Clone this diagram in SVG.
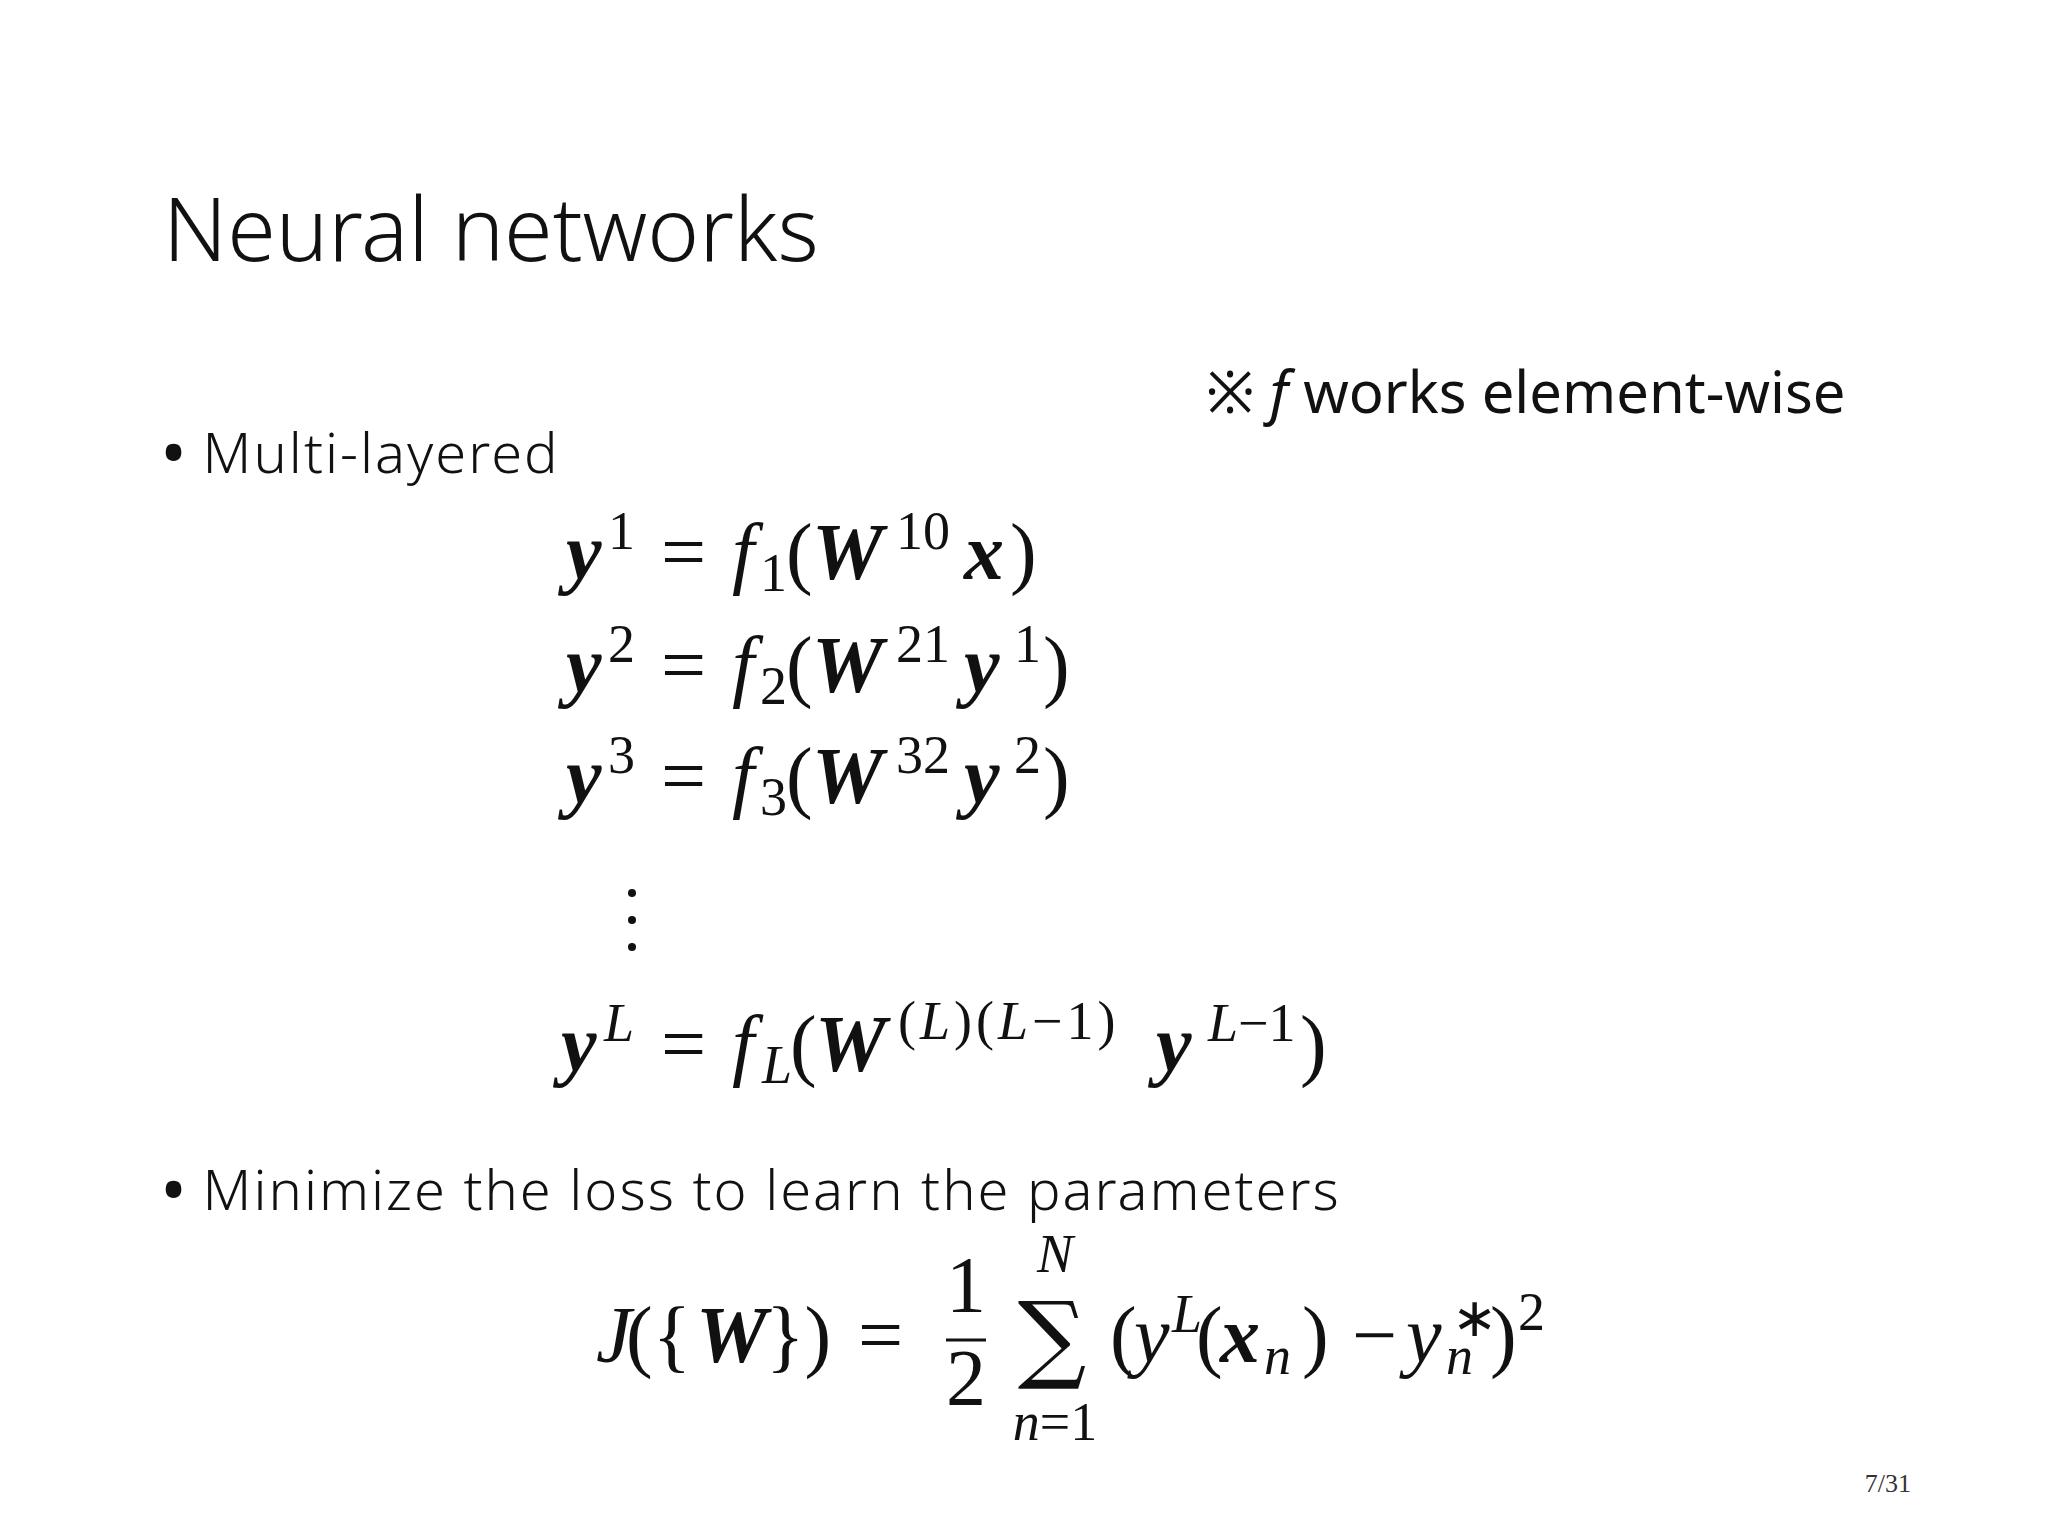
<svg xmlns="http://www.w3.org/2000/svg" width="2048" height="1536" viewBox="0 0 2048 1536">
<style>
.t{font-family:"Noto Sans",sans-serif;fill:#111;font-weight:300}
.m{font-family:"Liberation Serif",serif;fill:#111;font-size:80px}
.b{font-weight:bold;font-style:italic}
.i{font-style:italic}
.s{font-size:54px}
</style>
<rect width="2048" height="1536" fill="#fff"/>
<g id="title"><text class="t" x="163" y="261" font-size="88">Neural networks</text></g>
<g id="note"><text x="1206" y="413" font-size="58" font-family="Noto Sans,sans-serif" fill="#111">※ <tspan font-style="italic">f</tspan>  works element-wise</text></g>
<g id="bullet1"><text class="t" x="163" y="473" font-size="56" letter-spacing="2"><tspan font-weight="700">•</tspan> Multi-layered</text></g>
<g id="eqs">
<text class="m" y="579"><tspan class="b" x="566">y</tspan><tspan class="s" x="608" dy="-30">1</tspan><tspan x="661" dy="30">=</tspan><tspan class="i" x="732">f</tspan><tspan class="s" x="760" dy="12">1</tspan><tspan x="786" dy="-12">(</tspan><tspan class="b" x="812">W</tspan><tspan class="s" x="896" dy="-30">10</tspan><tspan class="b" x="964" dy="30">x</tspan><tspan x="1010">)</tspan></text>
<text class="m" y="692"><tspan class="b" x="566">y</tspan><tspan class="s" x="608" dy="-30">2</tspan><tspan x="661" dy="30">=</tspan><tspan class="i" x="732">f</tspan><tspan class="s" x="760" dy="12">2</tspan><tspan x="786" dy="-12">(</tspan><tspan class="b" x="812">W</tspan><tspan class="s" x="896" dy="-30">21</tspan><tspan class="b" x="964" dy="30">y</tspan><tspan class="s" x="1014" dy="-30">1</tspan><tspan x="1043" dy="30">)</tspan></text>
<text class="m" y="803"><tspan class="b" x="566">y</tspan><tspan class="s" x="608" dy="-30">3</tspan><tspan x="661" dy="30">=</tspan><tspan class="i" x="732">f</tspan><tspan class="s" x="760" dy="12">3</tspan><tspan x="786" dy="-12">(</tspan><tspan class="b" x="812">W</tspan><tspan class="s" x="896" dy="-30">32</tspan><tspan class="b" x="964" dy="30">y</tspan><tspan class="s" x="1014" dy="-30">2</tspan><tspan x="1043" dy="30">)</tspan></text>
<g fill="#111"><circle cx="632" cy="893" r="4"/><circle cx="632" cy="920" r="4"/><circle cx="632" cy="947" r="4"/></g>
<text class="m" y="1071"><tspan class="b" x="561">y</tspan><tspan class="s i" x="604" dy="-30">L</tspan><tspan x="661" dy="30">=</tspan><tspan class="i" x="732">f</tspan><tspan class="s i" x="762" dy="12">L</tspan><tspan x="790" dy="-12">(</tspan><tspan class="b" x="815">W</tspan><tspan class="s" x="898" dy="-32" letter-spacing="4">(<tspan class="i">L</tspan>)(<tspan class="i">L</tspan>−1)</tspan><tspan class="b" x="1156" dy="32">y</tspan><tspan class="s" x="1208" dy="-30"><tspan class="i">L</tspan>−1</tspan><tspan x="1300" dy="30">)</tspan></text>
</g>
<g id="bullet2"><text class="t" x="163" y="1210" font-size="56" letter-spacing="2"><tspan font-weight="700">•</tspan> Minimize the loss to learn the parameters</text></g>
<g id="loss">
<text class="m" y="1362"><tspan class="i" x="596">J</tspan><tspan x="626">({</tspan><tspan class="b" x="696">W</tspan><tspan x="766">})</tspan><tspan x="858">=</tspan></text>
<text class="m" x="966" y="1312" text-anchor="middle">1</text>
<line x1="946" y1="1340" x2="986" y2="1340" stroke="#111" stroke-width="3"/>
<text class="m" x="966" y="1405" text-anchor="middle">2</text>
<text x="1052" y="1370" text-anchor="middle" font-family="DejaVu Serif,serif" font-size="96" fill="#111">∑</text>
<text class="m s i" x="1055" y="1272" text-anchor="middle">N</text>
<text class="m s" x="1055" y="1440" text-anchor="middle"><tspan class="i">n</tspan>=1</text>
<text class="m" y="1362"><tspan x="1110">(</tspan><tspan class="i" x="1134">y</tspan><tspan class="s i" x="1172" dy="-30">L</tspan><tspan x="1196" dy="30">(</tspan><tspan class="b" x="1220">x</tspan><tspan class="s i" x="1264" dy="12">n</tspan><tspan x="1302" dy="-12">)</tspan><tspan x="1352">−</tspan><tspan class="i" x="1406">y</tspan><tspan class="s" x="1452" dy="-26">∗</tspan><tspan class="s i" x="1446" dy="38">n</tspan><tspan x="1490" dy="-12">)</tspan><tspan class="s" x="1518" dy="-32">2</tspan></text>
</g>
<g id="page"><text x="1911" y="1492" text-anchor="end" font-family="Liberation Serif,serif" font-size="26" fill="#333">7/31</text></g>
</svg>
